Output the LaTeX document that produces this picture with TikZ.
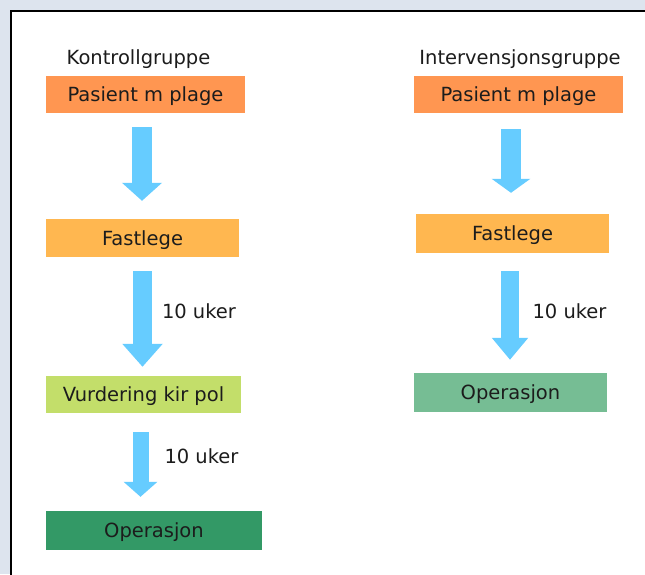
\documentclass[tikz,border=0pt]{standalone}
\usepackage{fontspec}
\setmainfont{DejaVu Sans}
\usetikzlibrary{arrows.meta}
\definecolor{bgc}{HTML}{DDE4EE}
\definecolor{pasc}{HTML}{FF9651}
\definecolor{fastc}{HTML}{FFB750}
\definecolor{vurdc}{HTML}{C3DE6A}
\definecolor{opdark}{HTML}{339966}
\definecolor{oplight}{HTML}{76BD94}
\definecolor{arrc}{HTML}{66CCFF}
\definecolor{txtc}{HTML}{1C1C1C}
\tikzset{
  box/.style={inner sep=0pt, text=txtc, font=\fontsize{19.5}{22}\selectfont, text height=14.5pt, text depth=0pt},
  lbl/.style={inner sep=0pt, text=txtc, font=\fontsize{19.5}{22}\selectfont, anchor=base},
}
\begin{document}
\begin{tikzpicture}[x=1pt,y=-1pt]
\useasboundingbox (0,0) rectangle (645,574);
\fill[bgc] (0,0) rectangle (645,574);
\draw[line width=2pt, fill=white] (11,11) rectangle (660,590);
% titles
\node[lbl] (t1) at (138.5,64) {Kontrollgruppe};
\node[lbl] (t2) at (520,64) {Intervensjonsgruppe};
% left column
\node[box, fill=pasc, minimum width=199pt, minimum height=37pt] (p1) at (145.5,94.5) {Pasient m plage};
\node[box, fill=fastc, minimum width=193pt, minimum height=38pt] (f1) at (142.5,238) {Fastlege};
\node[box, fill=vurdc, minimum width=195pt, minimum height=37pt] (v1) at (143.5,394.5) {Vurdering kir pol};
\node[box, fill=opdark, minimum width=216pt, minimum height=39pt] (o1) at (154,530.5) {Operasjon};
% right column
\node[box, fill=pasc, minimum width=209pt, minimum height=37pt] (p2) at (518.5,94.5) {Pasient m plage};
\node[box, fill=fastc, minimum width=193pt, minimum height=39pt] (f2) at (512.5,233.5) {Fastlege};
\node[box, fill=oplight, minimum width=193pt, minimum height=39pt] (o2) at (510.5,392.5) {Operasjon};
% labels
\node[lbl] (l1) at (199,318) {10 uker};
\node[lbl] (l2) at (201.5,463) {10 uker};
\node[lbl] (l3) at (569.5,318) {10 uker};
% arrow axes
\coordinate (x1) at (142,0);
\coordinate (x2) at (142.5,0);
\coordinate (x3) at (140.5,0);
\coordinate (x4) at (511,0);
\coordinate (x5) at (510,0);
% arrows
\draw[arrc, line width=20pt, -{Triangle[width=39pt,length=18pt]}, shorten <=14pt, shorten >=18pt] (p1.south -| x1) -- (f1.north -| x1);
\draw[arrc, line width=19pt, -{Triangle[width=39pt,length=23pt]}, shorten <=14pt, shorten >=9pt] (f1.south -| x2) -- (v1.north -| x2);
\draw[arrc, line width=16pt, -{Triangle[width=33pt,length=15pt]}, shorten <=19pt, shorten >=14pt] (v1.south -| x3) -- (o1.north -| x3);
\draw[arrc, line width=20pt, -{Triangle[width=38pt,length=14pt]}, shorten <=16pt, shorten >=21pt] (p2.south -| x4) -- (f2.north -| x4);
\draw[arrc, line width=18pt, -{Triangle[width=35pt,length=22pt]}, shorten <=18pt, shorten >=13pt] (f2.south -| x5) -- (o2.north -| x5);
\end{tikzpicture}
\end{document}
